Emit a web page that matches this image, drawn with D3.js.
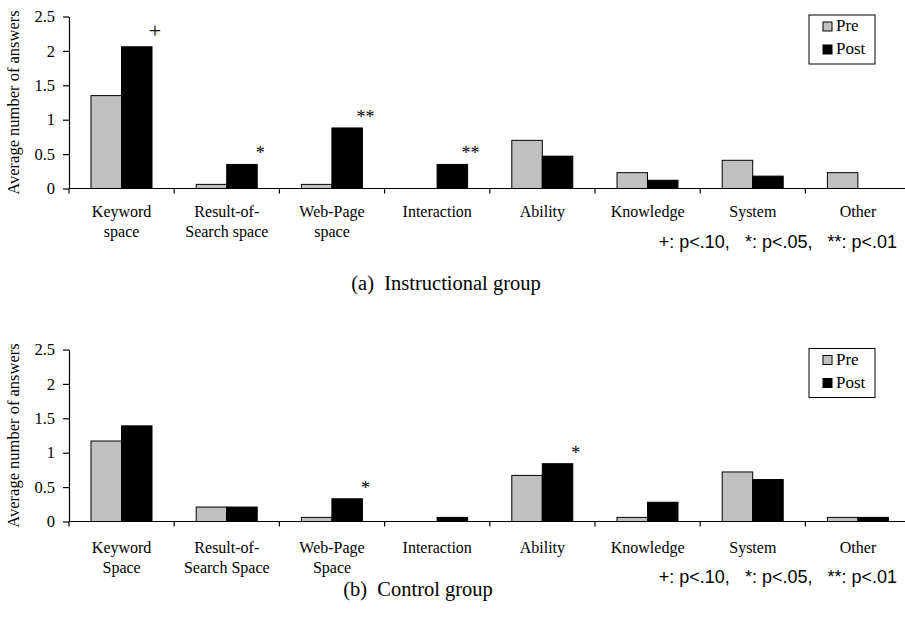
<!DOCTYPE html>
<html>
<head>
<meta charset="utf-8">
<script src="https://cdn.jsdelivr.net/npm/d3@7"></script>
<style>
  body { margin: 0; background: #fff; }
  svg { display: block; }
  text { font-family: "Liberation Serif", "Times New Roman", serif; fill: #000; }
  .note { font-family: "Liberation Sans", Arial, sans-serif; }
</style>
</head>
<body>
<svg id="chart" width="905" height="617"></svg>
<script>
// categories (one array of lines per label)
const categoriesA = [["Keyword", "space"], ["Result-of-", "Search space"], ["Web-Page", "space"], ["Interaction"], ["Ability"], ["Knowledge"], ["System"], ["Other"]]
const categoriesB = [["Keyword", "Space"], ["Result-of-", "Search Space"], ["Web-Page", "Space"], ["Interaction"], ["Ability"], ["Knowledge"], ["System"], ["Other"]]

// instructional group
const preA = [1.35, 0.06, 0.06, 0, 0.70, 0.23, 0.41, 0.23]
const postA = [2.06, 0.35, 0.88, 0.35, 0.47, 0.12, 0.18, 0]
const sigA = ["+", "*", "**", "**", "", "", "", ""]

// control group
const preB = [1.17, 0.21, 0.06, 0, 0.67, 0.06, 0.72, 0.06]
const postB = [1.39, 0.21, 0.33, 0.06, 0.84, 0.28, 0.61, 0.06]
const sigB = ["", "", "*", "", "*", "", "", ""]

const yTicks = [0, 0.5, 1, 1.5, 2, 2.5]
const tickLabels = ["0", "0.5", "1", "1.5", "2", "2.5"]
const seriesNames = ["Pre", "Post"]
const seriesColors = ["#c0c0c0", "#000000"]
const noteText = "+: p<.10,   *: p<.05,   **: p<.01"

const svg = d3.select('#chart')

/**
 * One panel: axes, grouped bars, significance marks, legend, note, caption.
 * opts holds the vertical offsets that differ between the two panels.
 */
function drawPanel(top, cats, pre, post, sig, caption, opts) {
  var g = svg.append('g').attr('transform', 'translate(0,' + top + ')')
  var x0 = 69, band = 105.2
  var x = d3.scaleBand().domain(d3.range(cats.length)).range([x0, x0 + band * cats.length])
  var xs = d3.scaleBand().domain(seriesNames).range([22, 22 + 61])
  var y = d3.scaleLinear().domain([0, 2.5]).range([172, 0])

  // y axis
  var ya = g.append('g').attr('transform', 'translate(' + x0 + ',0)')
      .call(d3.axisLeft(y).tickValues(yTicks).tickSize(6).tickSizeOuter(0)
        .tickFormat((d, i) => tickLabels[i]))
  ya.select('.domain').attr('stroke', '#000').attr('stroke-width', 1.2)
  ya.selectAll('.tick line').attr('stroke', '#000').attr('stroke-width', 1.2)
  ya.selectAll('.tick text').attr('font-family', '"Liberation Serif", serif')
      .attr('font-size', 16.5).attr('x', -14)

  g.append('text')
      .attr('transform', 'translate(19,' + y(1.25) + ') rotate(-90)')
      .attr('text-anchor', 'middle')
      .attr('font-size', 16.5)
      .text('Average number of answers')

  // bars
  var groups = g.selectAll('.grp').data(cats.map((c, i) => i)).enter()
      .append('g')
      .attr('transform', i => 'translate(' + x(i) + ',0)')
  groups.selectAll('rect')
      .data(i => [pre[i], post[i]].map((v, j) => ({ v: v, s: seriesNames[j], c: seriesColors[j] })).filter(d => d.v > 0))
      .enter().append('rect')
      .attr('x', d => xs(d.s))
      .attr('y', d => y(d.v))
      .attr('width', xs.bandwidth())
      .attr('height', d => y(0) - y(d.v))
      .attr('fill', d => d.c)
      .attr('stroke', '#000')
      .attr('stroke-width', 1)
  groups.filter(i => sig[i]).append('text')
      .attr('x', xs('Post') + xs.bandwidth() + 3)
      .attr('y', i => y(post[i]) - (sig[i] === '+' ? 9 : 5))
      .attr('text-anchor', 'middle')
      .attr('font-size', i => sig[i] === '+' ? 22 : 18)
      .attr('font-family', '"Liberation Sans", sans-serif')
      .text(i => sig[i])

  // x axis line with ticks at band boundaries
  g.append('line').attr('x1', x0).attr('x2', 905).attr('y1', y(0)).attr('y2', y(0))
      .attr('stroke', '#000').attr('stroke-width', 1.2)
  g.selectAll('.xt').data(d3.range(cats.length)).enter().append('line')
      .attr('x1', i => x(i)).attr('x2', i => x(i))
      .attr('y1', y(0)).attr('y2', y(0) + 5)
      .attr('stroke', '#000').attr('stroke-width', 1.2)

  // category labels
  var labs = g.selectAll('.cat').data(cats).enter().append('text')
      .attr('text-anchor', 'middle')
      .attr('font-size', 16)
      .attr('transform', (d, i) => 'translate(' + (x(i) + x.bandwidth() / 2) + ',' + (y(0) + opts.labelY) + ')')
  labs.selectAll('tspan').data(d => d).enter().append('tspan')
      .attr('x', 0).attr('dy', (d, k) => k === 0 ? 0 : opts.lineGap)
      .text(d => d)

  // legend (sits at the very top of the panel)
  var lg = g.append('g').attr('transform', 'translate(809,' + opts.legendY + ')')
  lg.append('rect').attr('width', 66).attr('height', 49)
      .attr('fill', '#fff').attr('stroke', '#000').attr('stroke-width', 1)
  seriesNames.forEach((s, j) => {
    lg.append('rect').attr('x', 14).attr('y', 7 + j * 23).attr('width', 9).attr('height', 9)
        .attr('fill', seriesColors[j]).attr('stroke', '#000').attr('stroke-width', 1)
    lg.append('text').attr('x', 27).attr('y', 16 + j * 23).attr('font-size', 17).text(s)
  })

  // note and caption
  g.append('text').attr('class', 'note')
      .attr('x', 897).attr('y', y(0) + opts.noteY)
      .attr('text-anchor', 'end')
      .attr('font-size', 18)
      .style('white-space', 'pre')
      .text(noteText)
  g.append('text')
      .attr('x', opts.capX).attr('y', y(0) + opts.capY)
      .attr('text-anchor', 'middle')
      .attr('font-size', 20.5)
      .style('white-space', 'pre')
      .text(caption)
}

drawPanel(16.5, categoriesA, preA, postA, sigA, '(a)  Instructional group',
  { labelY: 28, lineGap: 20, noteY: 59, capY: 101, capX: 446, legendY: -1.5 })
drawPanel(349.5, categoriesB, preB, postB, sigB, '(b)  Control group',
  { labelY: 31, lineGap: 20, noteY: 61, capY: 74, capX: 418, legendY: -1 })
</script>
</body>
</html>
